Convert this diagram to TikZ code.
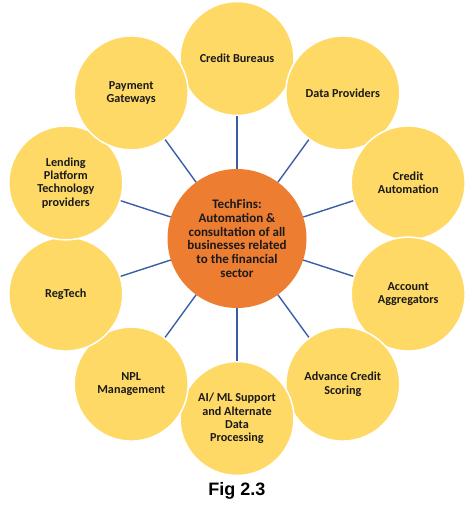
\documentclass[tikz,border=0pt]{standalone}
\usepackage{fontspec}
\setmainfont{Carlito}
\newfontfamily\figfont{Liberation Sans}
\definecolor{petal}{HTML}{FFD966}
\definecolor{hubfill}{HTML}{ED7D31}
\definecolor{spoke}{HTML}{3A5EA6}
\definecolor{ink}{HTML}{1A1A1A}
\tikzset{
  petal/.style={circle,fill=petal,draw=white,line width=1.5pt,minimum size=114pt,inner sep=0pt,
    align=center,text=ink,font=\fontsize{12.2}{13.3}\selectfont\bfseries},
  hub/.style={circle,fill=hubfill,minimum size=139pt,inner sep=0pt,
    align=center,text=ink,font=\fontsize{13}{13.7}\selectfont\bfseries},
  spokeline/.style={draw=spoke,line width=1.4pt}
}
\begin{document}
\begin{tikzpicture}[x=1pt,y=-1pt]
\useasboundingbox (0,0) rectangle (474,509);
\node[hub](hub) at (237,238.5) {TechFins:\\Automation \&\\consultation of all\\businesses related\\to the financial\\sector};
\node[petal](bureaus) at (237,58.5) {Credit Bureaus};
\node[petal](data) at (342.8,92.9) {Data Providers};
\node[petal](auto) at (408.2,182.9) {Credit\\Automation};
\node[petal](aggr) at (408.2,294.1) {Account\\Aggregators};
\node[petal](scoring) at (342.8,384.1) {Advance Credit\\Scoring};
\node[petal](aiml) at (237,418.5) {AI/ ML Support\\and Alternate\\Data\\Processing};
\node[petal](npl) at (131.2,384.1) {NPL\\Management};
\node[petal](regtech) at (65.8,294.1) {RegTech};
\node[petal](lending) at (65.8,182.9) {Lending\\Platform\\Technology\\providers};
\node[petal](payment) at (131.2,92.9) {Payment\\Gateways};
\draw[spokeline](hub)--(bureaus);
\draw[spokeline](hub)--(data);
\draw[spokeline](hub)--(auto);
\draw[spokeline](hub)--(aggr);
\draw[spokeline](hub)--(scoring);
\draw[spokeline](hub)--(aiml);
\draw[spokeline](hub)--(npl);
\draw[spokeline](hub)--(regtech);
\draw[spokeline](hub)--(lending);
\draw[spokeline](hub)--(payment);
\node[anchor=base,font=\figfont\fontsize{18}{20}\selectfont\bfseries,text=black](caption) at (237,495) {Fig 2.3};
\end{tikzpicture}
\end{document}
